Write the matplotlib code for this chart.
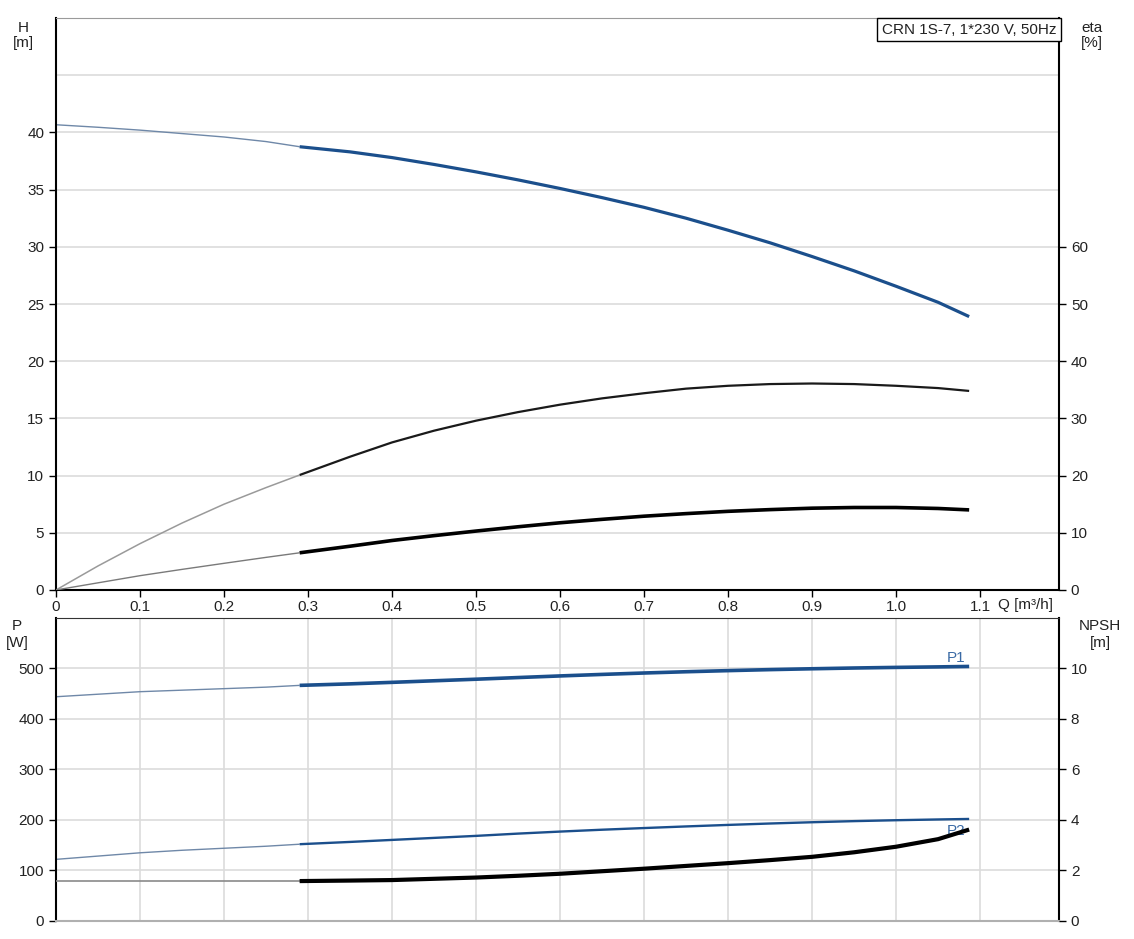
import numpy as np
import matplotlib.pyplot as plt
import matplotlib.transforms as mtransforms

plt.rcParams['font.family'] = ['Liberation Sans', 'DejaVu Sans']

# flow points [m3/h]; points up to index `split` are drawn thin, the rest thick
q = [0, 0.05, 0.1, 0.15, 0.2, 0.25, 0.29, 0.35, 0.4, 0.45, 0.5, 0.55, 0.6,
     0.65, 0.7, 0.75, 0.8, 0.85, 0.9, 0.95, 1.0, 1.05, 1.087]
split = 6
head = [40.67, 40.45, 40.2, 39.9, 39.6, 39.2, 38.75, 38.3, 37.8, 37.2, 36.55, 35.85,
        35.1, 34.3, 33.45, 32.5, 31.45, 30.35, 29.15, 27.9, 26.55, 25.15, 23.9]
eta_pump = [0, 4.2, 8.1, 11.7, 15.0, 17.9, 20.1, 23.3, 25.8, 27.85, 29.6, 31.1,
            32.4, 33.5, 34.4, 35.2, 35.7, 36.0, 36.1, 36.0, 35.7, 35.3, 34.8]
eta_total = [0, 1.25, 2.5, 3.6, 4.66, 5.7, 6.5, 7.65, 8.65, 9.5, 10.3, 11.05,
             11.75, 12.35, 12.9, 13.35, 13.75, 14.05, 14.3, 14.42, 14.42, 14.25, 14.0]
p1 = [444, 449, 454, 457, 460, 463, 466.5, 469.5, 472.5, 475.6, 478.7, 482,
      485.2, 488.2, 491, 493.5, 495.7, 497.7, 499.4, 500.9, 502.1, 503.1, 504]
p2 = [122, 128.5, 135, 140, 144, 148, 152, 156.5, 160.5, 164.5, 168.5, 173,
      177, 180.7, 184, 187.2, 190.2, 193, 195.5, 197.7, 199.5, 201, 202]
npsh = [1.58, 1.58, 1.58, 1.58, 1.58, 1.58, 1.58, 1.6, 1.62, 1.67, 1.72, 1.79,
        1.87, 1.97, 2.07, 2.18, 2.29, 2.41, 2.54, 2.72, 2.94, 3.24, 3.62]

x_ticks = [0, 0.1, 0.2, 0.3, 0.4, 0.5, 0.6, 0.7, 0.8, 0.9, 1.0, 1.1]
x_labels = ['0', '0.1', '0.2', '0.3', '0.4', '0.5', '0.6', '0.7', '0.8', '0.9', '1.0', '1.1']

blue = '#1b4f8c'
thin_blue = '#6f88a8'
grid_c = '#dcdcdc'
txt = '#222222'
fs = 11

W, H = 1134, 939
fig = plt.figure(figsize=(W / 100, H / 100), dpi=100)
ax = fig.add_axes([0.0494, 0.3717, 0.8845, 0.6091])
axb = fig.add_axes([0.0494, 0.0192, 0.8845, 0.3227])
ax2 = ax.twinx()
axb2 = axb.twinx()


def thin_thick(a, y, c_thin, c_thick, lw_thin, lw_thick):
    a.plot(q[:split + 1], y[:split + 1], color=c_thin, lw=lw_thin, solid_capstyle='butt')
    a.plot(q[split:], y[split:], color=c_thick, lw=lw_thick, solid_capstyle='butt',
           solid_joinstyle='round')


def style(a, a2):
    a.set_xlim(0, 1.194)
    a.set_xticks(np.arange(1, 12) / 10, minor=True)
    a.grid(True, which='minor', axis='x', color=grid_c, lw=1.2)
    a.grid(True, which='major', axis='y', color=grid_c, lw=1.2)
    a.set_axisbelow(True)
    for s in ['left', 'right']:
        a.spines[s].set_color('black')
        a.spines[s].set_linewidth(1.5)
    a.spines['top'].set_color('#9a9a9a')
    a.tick_params(axis='y', labelsize=fs, labelcolor=txt, length=5, width=1)
    a2.tick_params(axis='y', labelsize=fs, labelcolor=txt, length=5, width=1)
    a.tick_params(axis='x', which='minor', length=0)
    for s in a2.spines.values():
        s.set_visible(False)


def label(xpx, ypx, s):
    # axis titles placed at pixel positions (baseline)
    fig.text(xpx / W, 1 - ypx / H, s, fontsize=fs, color=txt, ha='center', va='baseline')


# top chart: head and efficiencies
style(ax, ax2)
ax.set_ylim(0, 50)
ax.set_yticks([0, 5, 10, 15, 20, 25, 30, 35, 40, 45])
ax.set_yticklabels(['0', '5', '10', '15', '20', '25', '30', '35', '40', ''])
ax.yaxis.get_major_ticks()[-1].tick1line.set_visible(False)
ax.set_xticks(x_ticks)
ax.set_xticklabels(x_labels)
ax.tick_params(axis='x', which='major', labelsize=fs, labelcolor=txt, length=5, width=1, pad=2.5)
ax.spines['bottom'].set_color('black')
ax.spines['bottom'].set_linewidth(1.5)
ax2.set_ylim(0, 100)
ax2.set_yticks([0, 10, 20, 30, 40, 50, 60])

thin_thick(ax, head, thin_blue, blue, 1.0, 2.3)
thin_thick(ax2, eta_pump, '#9a9a9a', '#1a1a1a', 1.1, 1.6)
thin_thick(ax2, eta_total, '#7a7a7a', '#000000', 1.0, 2.6)

trans = mtransforms.blended_transform_factory(ax.transData, ax.transAxes)
ax.text(1.121, -0.0332, 'Q [m³/h]', transform=trans, fontsize=fs, color=txt,
        ha='left', va='baseline', clip_on=False)
label(23, 32, 'H')
label(23, 47, '[m]')
label(1092, 32, 'eta')
label(1092, 47, '[%]')
ax.text(0.997, 0.992, 'CRN 1S-7, 1*230 V, 50Hz', transform=ax.transAxes, fontsize=fs,
        color=txt, ha='right', va='top', zorder=10,
        bbox=dict(boxstyle='square,pad=0.3', fc='white', ec='black', lw=1))

# bottom chart: power and NPSH
style(axb, axb2)
axb.set_ylim(0, 600)
axb.set_yticks([0, 100, 200, 300, 400, 500])
axb.set_xticks([])
axb.spines['bottom'].set_color('#b0b0b0')
axb.spines['bottom'].set_linewidth(1.5)
axb.spines['top'].set_color('#333333')
axb2.set_ylim(0, 12)
axb2.set_yticks([0, 2, 4, 6, 8, 10])

thin_thick(axb, p1, thin_blue, blue, 1.0, 2.6)
thin_thick(axb, p2, thin_blue, blue, 1.0, 1.7)
thin_thick(axb2, npsh, '#8a8a8a', '#000000', 1.2, 3.0)

axb.text(1.072, 513, 'P1', fontsize=fs, color='#3a6aa5', ha='center', va='baseline')
axb.text(1.072, 170, 'P2', fontsize=fs, color='#3a6aa5', ha='center', va='baseline', zorder=0)
label(17, 630, 'P')
label(17, 647, '[W]')
label(1100, 630, 'NPSH')
label(1100, 647, '[m]')

fig.savefig('out.png', dpi=100)
